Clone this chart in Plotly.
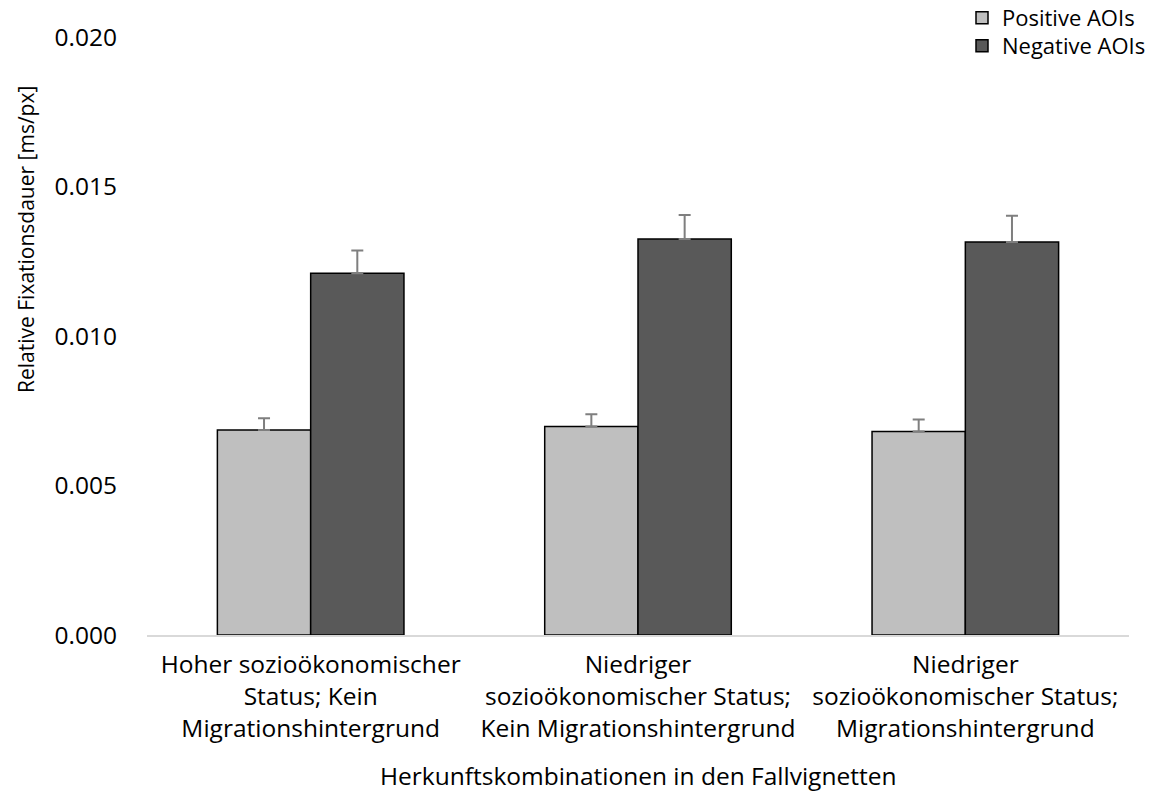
import plotly.graph_objects as go

categories = [
    "Hoher sozioökonomischer<br>Status; Kein<br>Migrationshintergrund",
    "Niedriger<br>sozioökonomischer Status;<br>Kein Migrationshintergrund",
    "Niedriger<br>sozioökonomischer Status;<br>Migrationshintergrund",
]
positive_vals = [0.00686, 0.00697, 0.00681]
positive_err = [0.00039, 0.00041, 0.00040]
negative_vals = [0.01210, 0.01324, 0.01314]
negative_err = [0.00076, 0.00081, 0.00088]
y_ticks = [0.0, 0.005, 0.010, 0.015, 0.020]
y_ticklabels = ["0.000", "0.005", "0.010", "0.015", "0.020"]

FONT = "Open Sans, sans-serif"
FS = 24.5
LFS = 22

W, H = 1167, 806

fig = go.Figure()
fig.add_trace(go.Bar(
    name="Positive AOIs", x=categories, y=positive_vals, legend="legend",
    marker=dict(color="#bfbfbf", line=dict(color="black", width=1.5)),
    error_y=dict(type="data", array=positive_err, arrayminus=[0]*3, symmetric=False,
                 color="#7f7f7f", thickness=2, width=6),
))
fig.add_trace(go.Bar(
    name="Negative AOIs", x=categories, y=negative_vals, legend="legend2",
    marker=dict(color="#595959", line=dict(color="black", width=1.5)),
    error_y=dict(type="data", array=negative_err, arrayminus=[0]*3, symmetric=False,
                 color="#7f7f7f", thickness=2, width=6),
))

leg_common = dict(xref="container", yref="container", xanchor="left", yanchor="middle",
                  font=dict(size=LFS), itemwidth=30, bgcolor="rgba(0,0,0,0)",
                  borderwidth=0)

fig.update_layout(
    width=W, height=H,
    margin=dict(l=147, r=38, t=37, b=171, autoexpand=False),
    paper_bgcolor="white", plot_bgcolor="white",
    barmode="group", bargap=0.43, bargroupgap=0,
    font=dict(family=FONT, size=FS, color="black"),
    showlegend=True,
    legend=dict(x=962 / W, y=1 - 18 / H, **leg_common),
    legend2=dict(x=962 / W, y=1 - 46 / H, **leg_common),
    xaxis=dict(showline=True, linecolor="#d9d9d9", linewidth=1.5,
               ticks="", tickfont=dict(size=FS), automargin=False,
               ticklabelstandoff=7),
    yaxis=dict(range=[0, 0.020], tickvals=y_ticks, ticktext=y_ticklabels,
               showgrid=False, zeroline=False, showline=False,
               tickfont=dict(size=FS), ticklabelstandoff=29, automargin=False),
    annotations=[
        dict(text="Relative Fixationsdauer [ms/px]", xref="paper", yref="paper",
             x=(26 - 147) / 982, y=(635 - 240) / 598, textangle=-90, showarrow=False,
             font=dict(size=21), xanchor="center", yanchor="middle"),
        dict(text="Herkunftskombinationen in den Fallvignetten", xref="paper", yref="paper",
             x=0.5, y=(635 - 775) / 598, showarrow=False, font=dict(size=FS),
             xanchor="center", yanchor="middle"),
    ],
)

fig.write_html("out.html", config={"displayModeBar": False},
               post_script="document.body.style.margin='0';")
